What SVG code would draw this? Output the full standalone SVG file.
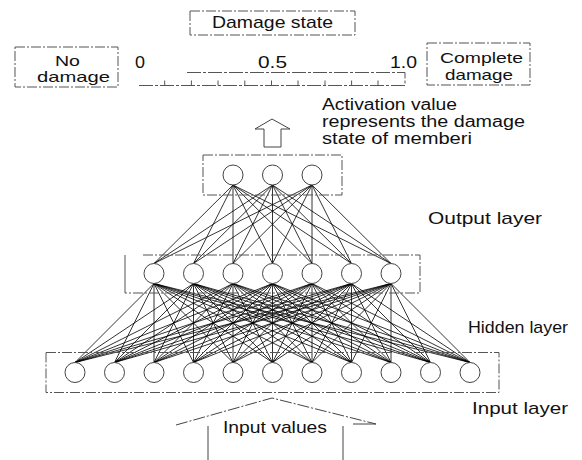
<svg xmlns="http://www.w3.org/2000/svg" width="582" height="460" viewBox="0 0 582 460">
<style>
text{font-family:"Liberation Sans",Arial,sans-serif;font-size:17px;fill:#111}
.sm{font-size:15px}
.md{font-size:16px}
.box{fill:none;stroke:#555;stroke-width:1;stroke-dasharray:10,2,2,2}
.node{fill:#fff;stroke:#444;stroke-width:1}
.c{stroke:#000;stroke-width:0.8}
.arr{fill:none;stroke:#444;stroke-width:1}
.sc{stroke:#555;stroke-width:1;fill:none}
</style>
<rect width="582" height="460" fill="#fff"/>

<g id="damage-state">
<rect class="box" x="190" y="11" width="165" height="24"/>
<text x="212" y="28" textLength="121" lengthAdjust="spacingAndGlyphs">Damage state</text>
</g>

<g id="no-damage">
<rect class="box" x="15" y="47" width="103" height="40"/>
<text class="sm" x="55" y="66" textLength="25" lengthAdjust="spacingAndGlyphs">No</text>
<text class="sm" x="37" y="82" textLength="73" lengthAdjust="spacingAndGlyphs">damage</text>
</g>

<g id="scale">
<text x="135" y="68" textLength="10" lengthAdjust="spacingAndGlyphs">0</text>
<text x="258" y="68" textLength="29" lengthAdjust="spacingAndGlyphs">0.5</text>
<text x="390" y="68" textLength="27" lengthAdjust="spacingAndGlyphs">1.0</text>
<path class="sc" stroke-dasharray="14,2,3,2" d="M187 72.5H405V85.5H138"/>
<path class="sc" d="M164.7 85.5v-5M191.4 85.5v-5M218 85.5v-5M244.8 85.5v-5M271.5 85.5v-5M298 85.5v-5M325 85.5v-5M351.6 85.5v-5M378 85.5v-5"/>
</g>

<g id="complete-damage">
<rect class="box" x="427" y="43" width="103" height="42"/>
<text class="sm" x="440" y="63" textLength="83" lengthAdjust="spacingAndGlyphs">Complete</text>
<text class="sm" x="445" y="80" textLength="68" lengthAdjust="spacingAndGlyphs">damage</text>
</g>

<g id="activation-note">
<text class="md" x="322" y="110" textLength="135" lengthAdjust="spacingAndGlyphs">Activation value</text>
<text class="md" x="322" y="127" textLength="203" lengthAdjust="spacingAndGlyphs">represents the damage</text>
<text class="md" x="322" y="144" textLength="150" lengthAdjust="spacingAndGlyphs">state of memberi</text>
</g>

<g id="output-arrow">
<path class="arr" d="M264 147V129H255L272 119L290 129H281V147Z"/>
</g>

<g id="connectors">
<line class="c" x1="233" y1="185" x2="154" y2="263.5"/>
<line class="c" x1="233" y1="185" x2="193.5" y2="263.5"/>
<line class="c" x1="233" y1="185" x2="233" y2="263.5"/>
<line class="c" x1="233" y1="185" x2="272.5" y2="263.5"/>
<line class="c" x1="233" y1="185" x2="312" y2="263.5"/>
<line class="c" x1="233" y1="185" x2="351.5" y2="263.5"/>
<line class="c" x1="233" y1="185" x2="391" y2="263.5"/>
<line class="c" x1="272.5" y1="185" x2="154" y2="263.5"/>
<line class="c" x1="272.5" y1="185" x2="193.5" y2="263.5"/>
<line class="c" x1="272.5" y1="185" x2="233" y2="263.5"/>
<line class="c" x1="272.5" y1="185" x2="272.5" y2="263.5"/>
<line class="c" x1="272.5" y1="185" x2="312" y2="263.5"/>
<line class="c" x1="272.5" y1="185" x2="351.5" y2="263.5"/>
<line class="c" x1="272.5" y1="185" x2="391" y2="263.5"/>
<line class="c" x1="312" y1="185" x2="154" y2="263.5"/>
<line class="c" x1="312" y1="185" x2="193.5" y2="263.5"/>
<line class="c" x1="312" y1="185" x2="233" y2="263.5"/>
<line class="c" x1="312" y1="185" x2="272.5" y2="263.5"/>
<line class="c" x1="312" y1="185" x2="312" y2="263.5"/>
<line class="c" x1="312" y1="185" x2="351.5" y2="263.5"/>
<line class="c" x1="312" y1="185" x2="391" y2="263.5"/>

<line class="c" x1="154" y1="283.5" x2="75" y2="362.5"/>
<line class="c" x1="154" y1="283.5" x2="114.5" y2="362.5"/>
<line class="c" x1="154" y1="283.5" x2="154" y2="362.5"/>
<line class="c" x1="154" y1="283.5" x2="193.5" y2="362.5"/>
<line class="c" x1="154" y1="283.5" x2="233" y2="362.5"/>
<line class="c" x1="154" y1="283.5" x2="272.5" y2="362.5"/>
<line class="c" x1="154" y1="283.5" x2="312" y2="362.5"/>
<line class="c" x1="154" y1="283.5" x2="351.5" y2="362.5"/>
<line class="c" x1="154" y1="283.5" x2="391" y2="362.5"/>
<line class="c" x1="154" y1="283.5" x2="430.5" y2="362.5"/>
<line class="c" x1="154" y1="283.5" x2="470" y2="362.5"/>

<line class="c" x1="193.5" y1="283.5" x2="75" y2="362.5"/>
<line class="c" x1="193.5" y1="283.5" x2="114.5" y2="362.5"/>
<line class="c" x1="193.5" y1="283.5" x2="154" y2="362.5"/>
<line class="c" x1="193.5" y1="283.5" x2="193.5" y2="362.5"/>
<line class="c" x1="193.5" y1="283.5" x2="233" y2="362.5"/>
<line class="c" x1="193.5" y1="283.5" x2="272.5" y2="362.5"/>
<line class="c" x1="193.5" y1="283.5" x2="312" y2="362.5"/>
<line class="c" x1="193.5" y1="283.5" x2="351.5" y2="362.5"/>
<line class="c" x1="193.5" y1="283.5" x2="391" y2="362.5"/>
<line class="c" x1="193.5" y1="283.5" x2="430.5" y2="362.5"/>
<line class="c" x1="193.5" y1="283.5" x2="470" y2="362.5"/>

<line class="c" x1="233" y1="283.5" x2="75" y2="362.5"/>
<line class="c" x1="233" y1="283.5" x2="114.5" y2="362.5"/>
<line class="c" x1="233" y1="283.5" x2="154" y2="362.5"/>
<line class="c" x1="233" y1="283.5" x2="193.5" y2="362.5"/>
<line class="c" x1="233" y1="283.5" x2="233" y2="362.5"/>
<line class="c" x1="233" y1="283.5" x2="272.5" y2="362.5"/>
<line class="c" x1="233" y1="283.5" x2="312" y2="362.5"/>
<line class="c" x1="233" y1="283.5" x2="351.5" y2="362.5"/>
<line class="c" x1="233" y1="283.5" x2="391" y2="362.5"/>
<line class="c" x1="233" y1="283.5" x2="430.5" y2="362.5"/>
<line class="c" x1="233" y1="283.5" x2="470" y2="362.5"/>

<line class="c" x1="272.5" y1="283.5" x2="75" y2="362.5"/>
<line class="c" x1="272.5" y1="283.5" x2="114.5" y2="362.5"/>
<line class="c" x1="272.5" y1="283.5" x2="154" y2="362.5"/>
<line class="c" x1="272.5" y1="283.5" x2="193.5" y2="362.5"/>
<line class="c" x1="272.5" y1="283.5" x2="233" y2="362.5"/>
<line class="c" x1="272.5" y1="283.5" x2="272.5" y2="362.5"/>
<line class="c" x1="272.5" y1="283.5" x2="312" y2="362.5"/>
<line class="c" x1="272.5" y1="283.5" x2="351.5" y2="362.5"/>
<line class="c" x1="272.5" y1="283.5" x2="391" y2="362.5"/>
<line class="c" x1="272.5" y1="283.5" x2="430.5" y2="362.5"/>
<line class="c" x1="272.5" y1="283.5" x2="470" y2="362.5"/>

<line class="c" x1="312" y1="283.5" x2="75" y2="362.5"/>
<line class="c" x1="312" y1="283.5" x2="114.5" y2="362.5"/>
<line class="c" x1="312" y1="283.5" x2="154" y2="362.5"/>
<line class="c" x1="312" y1="283.5" x2="193.5" y2="362.5"/>
<line class="c" x1="312" y1="283.5" x2="233" y2="362.5"/>
<line class="c" x1="312" y1="283.5" x2="272.5" y2="362.5"/>
<line class="c" x1="312" y1="283.5" x2="312" y2="362.5"/>
<line class="c" x1="312" y1="283.5" x2="351.5" y2="362.5"/>
<line class="c" x1="312" y1="283.5" x2="391" y2="362.5"/>
<line class="c" x1="312" y1="283.5" x2="430.5" y2="362.5"/>
<line class="c" x1="312" y1="283.5" x2="470" y2="362.5"/>

<line class="c" x1="351.5" y1="283.5" x2="75" y2="362.5"/>
<line class="c" x1="351.5" y1="283.5" x2="114.5" y2="362.5"/>
<line class="c" x1="351.5" y1="283.5" x2="154" y2="362.5"/>
<line class="c" x1="351.5" y1="283.5" x2="193.5" y2="362.5"/>
<line class="c" x1="351.5" y1="283.5" x2="233" y2="362.5"/>
<line class="c" x1="351.5" y1="283.5" x2="272.5" y2="362.5"/>
<line class="c" x1="351.5" y1="283.5" x2="312" y2="362.5"/>
<line class="c" x1="351.5" y1="283.5" x2="351.5" y2="362.5"/>
<line class="c" x1="351.5" y1="283.5" x2="391" y2="362.5"/>
<line class="c" x1="351.5" y1="283.5" x2="430.5" y2="362.5"/>
<line class="c" x1="351.5" y1="283.5" x2="470" y2="362.5"/>

<line class="c" x1="391" y1="283.5" x2="75" y2="362.5"/>
<line class="c" x1="391" y1="283.5" x2="114.5" y2="362.5"/>
<line class="c" x1="391" y1="283.5" x2="154" y2="362.5"/>
<line class="c" x1="391" y1="283.5" x2="193.5" y2="362.5"/>
<line class="c" x1="391" y1="283.5" x2="233" y2="362.5"/>
<line class="c" x1="391" y1="283.5" x2="272.5" y2="362.5"/>
<line class="c" x1="391" y1="283.5" x2="312" y2="362.5"/>
<line class="c" x1="391" y1="283.5" x2="351.5" y2="362.5"/>
<line class="c" x1="391" y1="283.5" x2="391" y2="362.5"/>
<line class="c" x1="391" y1="283.5" x2="430.5" y2="362.5"/>
<line class="c" x1="391" y1="283.5" x2="470" y2="362.5"/>
</g>

<g id="output-layer">
<rect class="box" x="203" y="155" width="139" height="40"/>
<circle class="node" id="o1" cx="233" cy="175" r="10"/>
<circle class="node" id="o2" cx="272.5" cy="175" r="10"/>
<circle class="node" id="o3" cx="312" cy="175" r="10"/>
<text x="428" y="224" textLength="114" lengthAdjust="spacingAndGlyphs">Output layer</text>
</g>

<g id="hidden-layer">
<path class="box" d="M143 255H420V293H125"/>
<path class="sc" d="M125 255V293"/>
<circle class="node" id="h1" cx="154" cy="273.5" r="10"/>
<circle class="node" id="h2" cx="193.5" cy="273.5" r="10"/>
<circle class="node" id="h3" cx="233" cy="273.5" r="10"/>
<circle class="node" id="h4" cx="272.5" cy="273.5" r="10"/>
<circle class="node" id="h5" cx="312" cy="273.5" r="10"/>
<circle class="node" id="h6" cx="351.5" cy="273.5" r="10"/>
<circle class="node" id="h7" cx="391" cy="273.5" r="10"/>
<text x="468" y="333" textLength="100" lengthAdjust="spacingAndGlyphs">Hidden layer</text>
</g>

<g id="input-layer">
<rect class="box" x="46" y="352.5" width="453" height="40"/>
<circle class="node" id="i1" cx="75" cy="372.5" r="10"/>
<circle class="node" id="i2" cx="114.5" cy="372.5" r="10"/>
<circle class="node" id="i3" cx="154" cy="372.5" r="10"/>
<circle class="node" id="i4" cx="193.5" cy="372.5" r="10"/>
<circle class="node" id="i5" cx="233" cy="372.5" r="10"/>
<circle class="node" id="i6" cx="272.5" cy="372.5" r="10"/>
<circle class="node" id="i7" cx="312" cy="372.5" r="10"/>
<circle class="node" id="i8" cx="351.5" cy="372.5" r="10"/>
<circle class="node" id="i9" cx="391" cy="372.5" r="10"/>
<circle class="node" id="i10" cx="430.5" cy="372.5" r="10"/>
<circle class="node" id="i11" cx="470" cy="372.5" r="10"/>
<text x="472" y="414" textLength="96" lengthAdjust="spacingAndGlyphs">Input layer</text>
</g>

<g id="input-values">
<path class="arr" stroke-dasharray="12,2,2,2" d="M176 425L272 398L376 424"/>
<path class="arr" d="M208 460V426M343 460V426M353 424H376"/>
<text x="223" y="433" textLength="104" lengthAdjust="spacingAndGlyphs">Input values</text>
</g>
</svg>
